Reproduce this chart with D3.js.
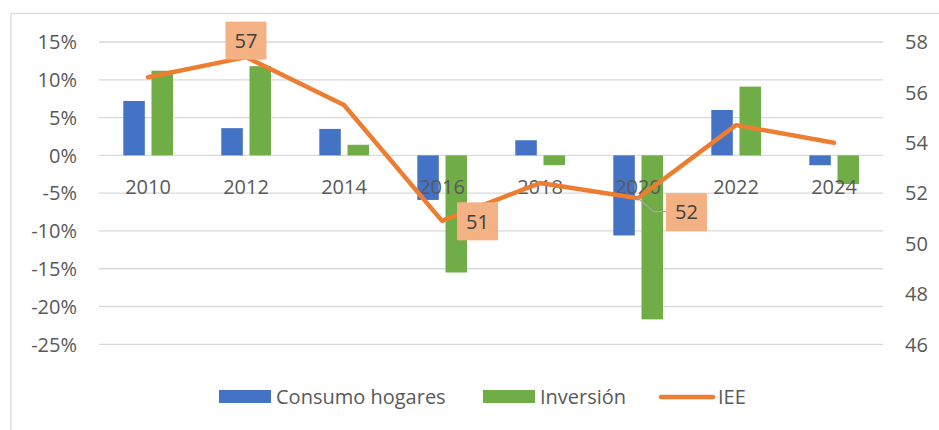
<!DOCTYPE html>
<html><head><meta charset="utf-8">
<script src="https://cdn.jsdelivr.net/npm/d3@7"></script>
<style>body{margin:0;background:#fff}svg{display:block}text{font-family:"Open Sans",sans-serif;fill:#595959}</style>
</head><body><svg id="c" width="939" height="430"></svg>
<script>
const years = ["2010","2012","2014","2016","2018","2020","2022","2024"];
const consumo = [7.2, 3.6, 3.5, -5.9, 2.0, -10.6, 6.0, -1.3];
const inversion = [11.2, 11.8, 1.4, -15.5, -1.3, -21.7, 9.1, -3.8];
const iee = [56.6, 57.4, 55.5, 50.9, 52.4, 51.8, 54.7, 54.0];
const leftTicks = [15, 10, 5, 0, -5, -10, -15, -20, -25];
const rightTicks = [58, 56, 54, 52, 50, 48, 46];
const labeled = [{i:1, text:"57"}, {i:3, text:"51"}, {i:5, text:"52"}];

const FS = 20;
const svg = d3.select("#c");
const L = 99, R = 883, T = 42, B = 344.3;
const x = d3.scaleBand().domain(years).range([L, R]);
const yL = d3.scaleLinear().domain([-25, 15]).range([B, T]);
const yR = d3.scaleLinear().domain([46, 58]).range([B, T]);

// chart border
svg.append("rect").attr("x", 11).attr("y", 13.5).attr("width", 940).attr("height", 430)
  .attr("fill", "none").attr("stroke", "#D9D9D9").attr("stroke-width", 1.3);

// gridlines
svg.append("g").selectAll("line").data(leftTicks).join("line")
  .attr("x1", L).attr("x2", R).attr("y1", d => yL(d)).attr("y2", d => yL(d))
  .attr("stroke", "#D9D9D9").attr("stroke-width", 1.3);

// left axis labels
svg.append("g").selectAll("text").data(leftTicks).join("text")
  .attr("x", 77).attr("y", d => yL(d)).attr("dy", "0.36em").attr("text-anchor", "end")
  .attr("font-size", FS).text(d => d + "%");
// right axis labels
svg.append("g").selectAll("text").data(rightTicks).join("text")
  .attr("x", 905).attr("y", d => yR(d)).attr("dy", "0.36em").attr("text-anchor", "start")
  .attr("font-size", FS).text(d => d);

// bars
const bw = 21.5;
const gBars = svg.append("g");
gBars.selectAll("rect.c").data(years).join("rect").attr("class", "c")
  .attr("x", d => x(d) + x.bandwidth()/2 - 3.2 - bw)
  .attr("width", bw)
  .attr("y", (d,i) => Math.min(yL(consumo[i]), yL(0)))
  .attr("height", (d,i) => Math.abs(yL(consumo[i]) - yL(0)))
  .attr("fill", "#4472C4");
gBars.selectAll("rect.v").data(years).join("rect").attr("class", "v")
  .attr("x", d => x(d) + x.bandwidth()/2 + 3.5)
  .attr("width", bw)
  .attr("y", (d,i) => Math.min(yL(inversion[i]), yL(0)))
  .attr("height", (d,i) => Math.abs(yL(inversion[i]) - yL(0)))
  .attr("fill", "#70AD47");

// category labels
svg.append("g").selectAll("text").data(years).join("text")
  .attr("x", d => x(d) + x.bandwidth()/2).attr("y", 187).attr("dy", "0.36em")
  .attr("text-anchor", "middle").attr("font-size", FS).text(d => d);

// line
const cx = d => x(d) + x.bandwidth()/2;
svg.append("path").datum(iee)
  .attr("d", d3.line().x((d,i) => cx(years[i])).y(d => yR(d)))
  .attr("fill", "none").attr("stroke", "#ED7D31").attr("stroke-width", 4.5)
  .attr("stroke-linecap", "round").attr("stroke-linejoin", "round");

// leader line for 2020 label
const p5x = cx(years[5]), p5y = yR(iee[5]);
svg.append("path")
  .attr("d", `M${p5x},${p5y} L${p5x+16},${p5y+13.5} L${p5x+28},${p5y+13.5}`)
  .attr("fill", "none").attr("stroke", "#A6A6A6").attr("stroke-width", 1.3);

// data labels
const bwL = 41, bhL = 38;
const offs = {1: [-20.5, -35.5], 3: [15, -18.5], 5: [28, -5]};
labeled.forEach(l => {
  const px = cx(years[l.i]), py = yR(iee[l.i]);
  const [ox, oy] = offs[l.i];
  const g = svg.append("g");
  g.append("rect").attr("x", px + ox).attr("y", py + oy).attr("width", bwL).attr("height", bhL)
    .attr("fill", "#F4B183");
  g.append("text").attr("x", px + ox + bwL/2).attr("y", py + oy + bhL/2).attr("dy", "0.36em")
    .attr("text-anchor", "middle").attr("font-size", FS)
    .style("fill", "#404040").text(l.text);
});

// legend
const lg = svg.append("g");
lg.append("rect").attr("x", 219).attr("y", 390).attr("width", 52).attr("height", 13).attr("fill", "#4472C4");
lg.append("text").attr("x", 276).attr("y", 397).attr("dy", "0.36em").attr("font-size", FS).text("Consumo hogares");
lg.append("rect").attr("x", 483).attr("y", 390).attr("width", 52).attr("height", 13).attr("fill", "#70AD47");
lg.append("text").attr("x", 540).attr("y", 397).attr("dy", "0.36em").attr("font-size", FS).text("Inversión");
lg.append("line").attr("x1", 661).attr("x2", 713).attr("y1", 397).attr("y2", 397)
  .attr("stroke", "#ED7D31").attr("stroke-width", 4.5).attr("stroke-linecap", "round");
lg.append("text").attr("x", 718).attr("y", 397).attr("dy", "0.36em").attr("font-size", FS).text("IEE");
</script></body></html>
